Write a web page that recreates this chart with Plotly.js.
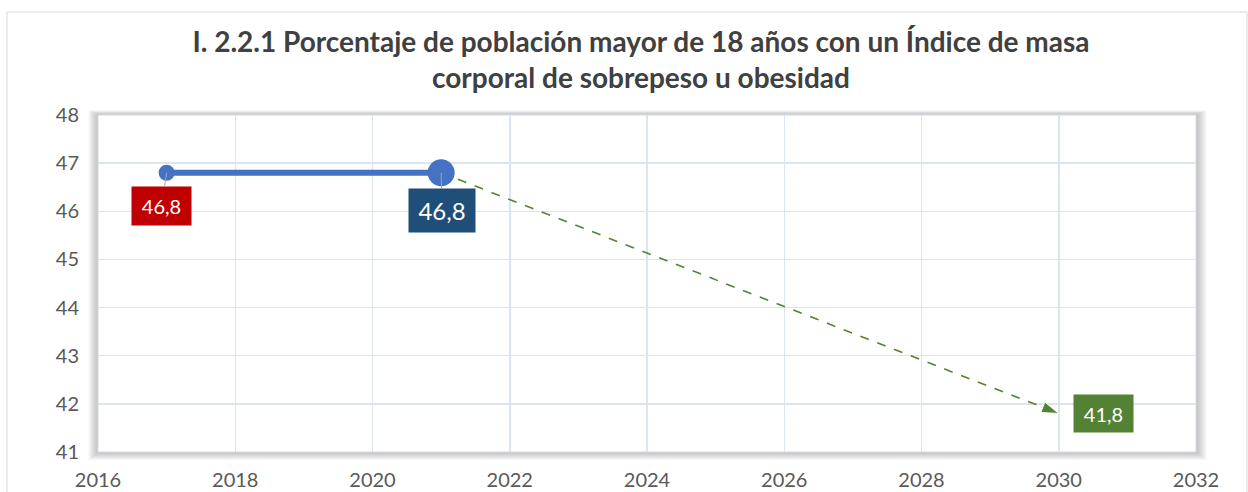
<!DOCTYPE html>
<html>
<head>
<meta charset="utf-8">
<script src="https://cdn.plot.ly/plotly-3.0.1.min.js"></script>
<style>html,body{margin:0;padding:0;background:#fff;}#chart{width:1248px;height:492px;}</style>
</head>
<body>
<div id="chart"></div>
<script>
// Data
const histYears = [2017, 2021];
const histValues = [46.8, 46.8];
const projYears = [2021, 2030];
const projValues = [46.8, 41.8];
const labelText = ['46,8', '46,8', '41,8'];
const xTicks = [2016, 2018, 2020, 2022, 2024, 2026, 2028, 2030, 2032];
const yTicks = [41, 42, 43, 44, 45, 46, 47, 48];
const titleText = 'I. 2.2.1 Porcentaje de población mayor de 18 años con un Índice de masa<br>corporal de sobrepeso u obesidad';

const FONT = 'Lato, "Open Sans", sans-serif';

const traces = [
  {
    x: projYears, y: projValues, mode: 'lines+markers', type: 'scatter',
    line: {color: '#548235', width: 1.6, dash: 'dash'},
    marker: {symbol: ['circle', 'arrow'], size: [0, 18], color: '#548235', opacity: 1, angleref: 'previous'},
    hoverinfo: 'skip', showlegend: false
  },
  {
    x: histYears, y: histValues, mode: 'lines+markers', type: 'scatter',
    line: {color: '#4472c4', width: 6},
    marker: {size: [16, 27], color: '#4472c4', opacity: 1, line: {width: 0}},
    hoverinfo: 'skip', showlegend: false
  }
];

// shadow rectangles around plot area
const shapes = [];
const pxX = v => v / 1098, pxY = v => v / 337;
shapes.push({type: 'rect', xref: 'paper', yref: 'paper', x0: -0.0829, x1: 1.0464, y0: -0.2, y1: 1.3056,
  line: {color: '#d9d9d9', width: 1}, fillcolor: 'rgba(0,0,0,0)', layer: 'below'});
for (let i = 8; i >= 1; i--) {
  shapes.push({type: 'rect', xref: 'paper', yref: 'paper',
    x0: -pxX(i * 1.2), x1: 1 + pxX(i * 1.3), y0: -pxY(i * 1.0), y1: 1 + pxY(i * 0.6),
    line: {width: 0}, fillcolor: 'rgba(0,0,0,0.032)', layer: 'below'});
}
shapes.push({type: 'rect', xref: 'paper', yref: 'paper', x0: 0, x1: 1, y0: 0, y1: 1,
  line: {color: '#d6dcec', width: 1}, fillcolor: '#ffffff', layer: 'below'});

const annotations = [
  {x: histYears[0], y: histValues[0], text: labelText[0], showarrow: true, arrowhead: 0, arrowwidth: 1,
   arrowcolor: '#a6a6a6', ax: -5, ay: 33, bgcolor: '#c00000', borderpad: 6, width: 47, height: 26,
   font: {family: FONT, size: 20, color: '#ffffff'}},
  {x: histYears[1], y: histValues[1], text: labelText[1], showarrow: true, arrowhead: 0, arrowwidth: 1,
   arrowcolor: '#a6a6a6', ax: 1, ay: 38, bgcolor: '#1f4e79', borderpad: 7, width: 52, height: 29,
   font: {family: FONT, size: 24, color: '#ffffff'}},
  {x: projYears[1], y: projValues[1], text: labelText[2], showarrow: false, xshift: 45,
   bgcolor: '#548235', borderpad: 6, width: 47, height: 25,
   font: {family: FONT, size: 20, color: '#ffffff'}}
];

const layout = {
  width: 1248, height: 492,
  paper_bgcolor: '#ffffff', plot_bgcolor: 'rgba(0,0,0,0)',
  margin: {l: 98, r: 52, t: 115, b: 40},
  font: {family: FONT, color: '#595959'},
  title: {text: titleText, xref: 'container', yref: 'container', x: 0.5136, xanchor: 'center',
    y: 1 - 52 / 492, yanchor: 'top', font: {family: FONT, size: 28, color: '#404040', weight: 'bold'}},
  xaxis: {range: [2016, 2032], tickvals: xTicks, ticktext: xTicks.map(String), showgrid: true,
    gridcolor: '#dce3f1', gridwidth: 1.5, zeroline: false, showline: false, ticks: '',
    ticklabelstandoff: 14, tickfont: {family: FONT, size: 20, color: '#595959'}},
  yaxis: {range: [41, 48], tickvals: yTicks, showgrid: true, gridcolor: '#dce3f1', gridwidth: 1.5,
    zeroline: false, showline: false, ticks: '', ticklabelstandoff: 18,
    tickfont: {family: FONT, size: 20, color: '#595959'}},
  shapes: shapes,
  annotations: annotations
};

Plotly.newPlot('chart', traces, layout, {staticPlot: true});
</script>
</body>
</html>
